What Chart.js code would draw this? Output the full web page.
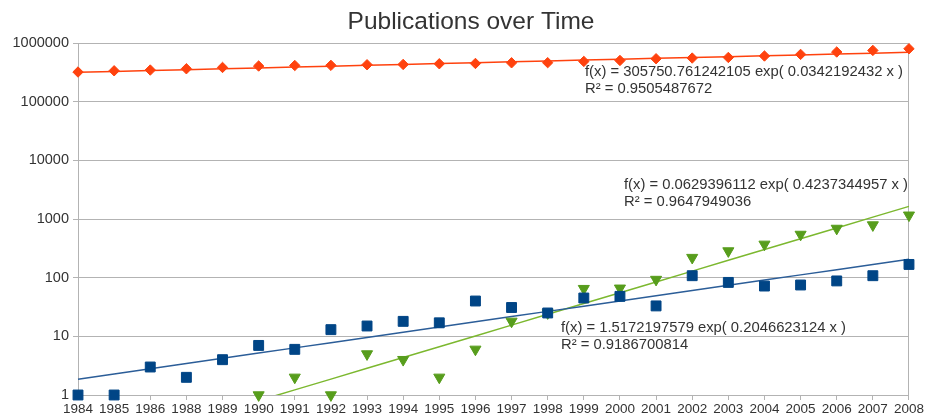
<!DOCTYPE html>
<html>
<head>
<meta charset="utf-8">
<script src="https://cdn.jsdelivr.net/npm/chart.js@4"></script>
<style>
  html, body { margin: 0; padding: 0; background: #ffffff; }
  #wrap { width: 925px; height: 417px; }
</style>
</head>
<body>
<div id="wrap"><canvas id="chart" width="925" height="417"></canvas></div>
<script>
// Categories (1987 has no entry)
const years = ['1984','1985','1986','1988','1989','1990','1991','1992','1993','1994','1995','1996',
               '1997','1998','1999','2000','2001','2002','2003','2004','2005','2006','2007','2008'];

// Yearly publication counts
const totalCounts = [320000, 336000, 346000, 364000, 383000, 405000, 414000, 416000, 426000, 431000, 443000, 448000,
                     460000, 462000, 485000, 504000, 539000, 554000, 567000, 600000, 639000, 702000, 747000, 798000];
const blueCounts  = [1, 1, 3, 2, 4, 7, 6, 13, 15, 18, 17, 40,
                     31, 25, 45, 48, 33, 108, 83, 72, 75, 88, 108, 168];
const greenCounts = [null, null, null, null, null, 1, 2, 1, 5, 4, 2, 6,
                     18, 25, 65, 66, 93, 220, 285, 370, 545, 690, 790, 1160];

// Exponential fits f(x) = a * exp(b * x), x = 1..n, with R²
const totalFit = ['305750.761242105', '0.0342192432', '0.9505487672'];
const blueFit  = ['1.5172197579', '0.2046623124', '0.9186700814'];
const greenFit = ['0.0629396112', '0.4237344957', '0.9647949036'];

// Log axis decades
const decadeTicks = [1, 10, 100, 1000, 10000, 100000, 1000000];

const TITLE = 'Publications over Time';
const RED = '#ff420e', BLUE = '#004586', GREEN = '#579d1c', GRID = '#b3b3b3', TEXT = '#333333';
const FONT = "'Liberation Sans', Arial, sans-serif";

function fitLine(fit) {
  const a = parseFloat(fit[0]), b = parseFloat(fit[1]);
  return years.map((_, i) => a * Math.exp(b * (i + 1)));
}
function fitLabel(fit) {
  return ['f(x) = ' + fit[0] + ' exp( ' + fit[1] + ' x )', 'R\u00B2 = ' + fit[2]];
}

// Chart heading, centred over the plot block
const headingPlugin = {
  id: 'heading',
  afterDraw(chart) {
    const ctx = chart.ctx;
    ctx.save();
    ctx.fillStyle = TEXT;
    ctx.font = '24.5px ' + FONT;
    ctx.textAlign = 'center';
    ctx.textBaseline = 'alphabetic';
    ctx.fillText(TITLE, 471, 29);
    ctx.restore();
  }
};

// Fit equations drawn next to their trend lines
const equationPlugin = {
  id: 'equations',
  afterDatasetsDraw(chart) {
    const ctx = chart.ctx;
    const spots = [
      { fit: totalFit, x: 585, y: 72 },
      { fit: greenFit, x: 624, y: 185 },
      { fit: blueFit,  x: 561, y: 328 }
    ];
    ctx.save();
    ctx.fillStyle = TEXT;
    ctx.font = '14.8px ' + FONT;
    ctx.textAlign = 'left';
    ctx.textBaseline = 'middle';
    spots.forEach(s => {
      const lines = fitLabel(s.fit);
      ctx.fillText(lines[0], s.x, s.y);
      ctx.fillText(lines[1], s.x, s.y + 16.6);
    });
    ctx.restore();
  }
};

const markerBase = { showLine: false, clip: false, order: 1, borderWidth: 1 };
const trendBase = { pointRadius: 0, borderWidth: 1.5, fill: false, tension: 0, order: 2 };

new Chart(document.getElementById('chart'), {
  type: 'line',
  data: {
    labels: years,
    datasets: [
      Object.assign({}, markerBase, {
        label: 'Total', data: totalCounts, pointStyle: 'rectRot', pointRadius: 5.2,
        backgroundColor: RED, borderColor: RED
      }),
      Object.assign({}, markerBase, {
        label: 'Blue', data: blueCounts, pointStyle: 'rect', pointRadius: 7,
        backgroundColor: BLUE, borderColor: BLUE
      }),
      Object.assign({}, markerBase, {
        label: 'Green', data: greenCounts, pointStyle: 'triangle', rotation: 180, pointRadius: 6.4,
        backgroundColor: GREEN, borderColor: GREEN
      }),
      Object.assign({}, trendBase, { label: 'Total fit', data: fitLine(totalFit), borderColor: RED }),
      Object.assign({}, trendBase, { label: 'Blue fit', data: fitLine(blueFit), borderColor: '#2b5d98' }),
      Object.assign({}, trendBase, { label: 'Green fit', data: fitLine(greenFit), borderColor: '#7cb82f' })
    ]
  },
  options: {
    responsive: false,
    animation: false,
    layout: { padding: { left: 0, right: 15, top: 43, bottom: 0 } },
    plugins: {
      legend: { display: false },
      tooltip: { enabled: false },
      title: { display: false }
    },
    scales: {
      x: {
        type: 'category',
        offset: false,
        grid: {
          display: true,
          drawOnChartArea: true,
          color: c => (c.index === years.length - 1 ? GRID : 'rgba(0,0,0,0)'),
          tickColor: GRID,
          tickLength: 5
        },
        border: { display: true, color: GRID },
        ticks: {
          autoSkip: false, maxRotation: 0, minRotation: 0, padding: 1,
          color: TEXT, font: { family: FONT, size: 13.5 }
        },
        afterFit: s => { s.height = 22; }
      },
      y: {
        type: 'logarithmic',
        min: 1,
        max: 1000000,
        afterBuildTicks: axis => { axis.ticks = decadeTicks.map(v => ({ value: v })); },
        grid: { color: GRID, tickColor: GRID, tickLength: 5 },
        border: { display: true, color: GRID },
        ticks: {
          padding: 4, color: TEXT, font: { family: FONT, size: 14.5 },
          callback: v => String(v)
        },
        afterFit: s => { s.width = 78; }
      }
    }
  },
  plugins: [equationPlugin, headingPlugin]
});
</script>
</body>
</html>
